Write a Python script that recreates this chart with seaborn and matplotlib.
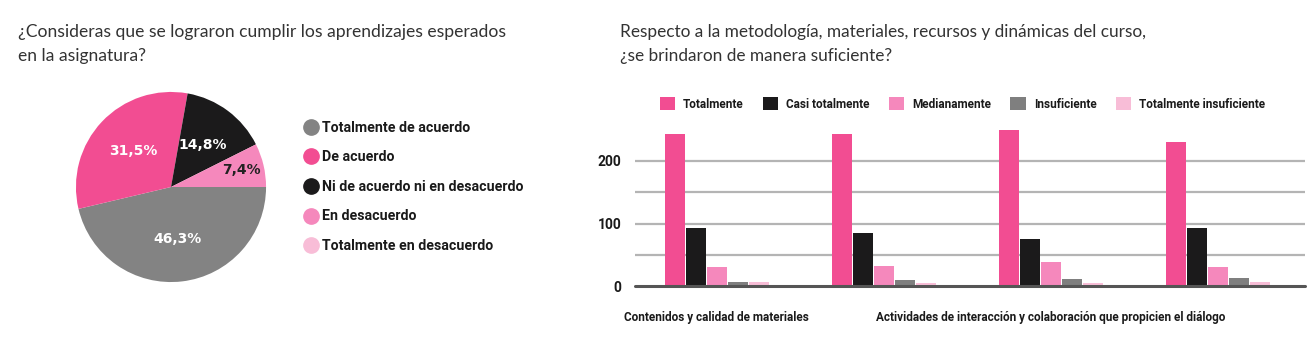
import numpy as np
import pandas as pd
import matplotlib
matplotlib.use('Agg')
import matplotlib.pyplot as plt
from matplotlib.lines import Line2D
import seaborn as sns

# Datos del gráfico de torta
pie_labels = ['Totalmente de acuerdo', 'De acuerdo', 'Ni de acuerdo ni en desacuerdo',
              'En desacuerdo', 'Totalmente en desacuerdo']
pie_values = [46.3, 31.5, 14.8, 7.4, 0.0]
pie_colors = ['#838383', '#F24D92', '#1B1A1B', '#F588BC', '#F8BDD7']

# Datos del gráfico de barras
categorias = ['Contenidos y calidad de materiales', '',
              'Actividades de interacción y colaboración que propicien el diálogo', '']
niveles = ['Totalmente', 'Casi totalmente', 'Medianamente', 'Insuficiente', 'Totalmente insuficiente']
totalmente = [243, 243, 249, 231]
casi_totalmente = [93, 85, 75, 93]
medianamente = [30, 32, 38, 31]
insuficiente = [7, 9, 11, 13]
totalmente_insuficiente = [7, 5, 5, 7]
bar_colors = ['#F24D92', '#1B1A1B', '#F588BC', '#7F7F7F', '#F8BDD7']

titulo_1 = '¿Consideras que se lograron cumplir los aprendizajes esperados\nen la asignatura?'
titulo_2 = 'Respecto a la metodología, materiales, recursos y dinámicas del curso,\n¿se brindaron de manera suficiente?'

sns.set_theme(style='white')
plt.rcParams['font.family'] = ['Lato', 'DejaVu Sans']
bold_font = ['Roboto', 'DejaVu Sans']

W, H = 1315, 337
fig = plt.figure(figsize=(W / 100, H / 100), dpi=100)
fig.patch.set_facecolor('white')

# Títulos
fig.text(18 / W, 1 - 24 / H, titulo_1, fontsize=12.6, color='#333333',
         va='top', ha='left', linespacing=1.65)
fig.text(620 / W, 1 - 24 / H, titulo_2, fontsize=12.4, color='#333333',
         va='top', ha='left', linespacing=1.65)

# ---- Torta ----
cx, cy, r = 171, 187, 96
ax_pie = fig.add_axes([(cx - r) / W, (H - cy - r) / H, 2 * r / W, 2 * r / H])
wedges, _ = ax_pie.pie(pie_values, colors=pie_colors, startangle=0, counterclock=False,
                       radius=1, wedgeprops=dict(linewidth=0))
total = sum(pie_values)
ang = 0.0
for v, c in zip(pie_values, pie_colors):
    if v <= 0:
        continue
    mid = np.deg2rad(ang - v / total * 180)
    ang -= v / total * 360
    dist = 0.55 if v > 10 else 0.76
    tc = '#222222' if c == '#F588BC' else 'white'
    ax_pie.text(dist * np.cos(mid), dist * np.sin(mid), f'{v:.1f}%'.replace('.', ','),
                ha='center', va='center', fontsize=10, fontweight='bold', color=tc,
                family=['DejaVu Sans'])
ax_pie.set_xlim(-1.01, 1.01)
ax_pie.set_ylim(-1.01, 1.01)
ax_pie.set_aspect('equal')
ax_pie.axis('off')

handles = [Line2D([0], [0], marker='o', linestyle='', markersize=11,
                  markerfacecolor=c, markeredgecolor=c) for c in pie_colors]
fig.legend(handles, pie_labels, loc='upper left', bbox_to_anchor=(290 / W, 1 - 108 / H),
           frameon=False, handletextpad=0.15, labelspacing=1.1, handlelength=1.2,
           prop=dict(family=bold_font, weight='bold', size=10.2), labelcolor='#1a1a1a')

# ---- Barras ----
df = pd.DataFrame({
    'categoria': np.repeat(np.arange(len(categorias)), len(niveles)),
    'nivel': niveles * len(categorias),
    'valor': np.array([totalmente, casi_totalmente, medianamente,
                       insuficiente, totalmente_insuficiente]).T.ravel(),
})

x0, x1 = 635, 1305
y_zero, y_top = 286, 123.5
ax = fig.add_axes([x0 / W, (H - y_zero) / H, (x1 - x0) / W, (y_zero - y_top) / H])
sns.barplot(data=df, x='categoria', y='valor', hue='nivel', hue_order=niveles,
            palette=bar_colors, width=0.63, gap=0.06, saturation=1, ax=ax,
            linewidth=0, legend=False)
ax.set_ylim(0, 260)
ax.set_xlim(-0.49, 3.52)
ax.set_yticks([0, 100, 200])
for y in [50, 100, 150, 200]:
    ax.axhline(y, color='#b4b4b4', linewidth=1.6, zorder=0)
ax.axhline(0, color='#555555', linewidth=2.2, zorder=3, clip_on=False)
for s in ax.spines.values():
    s.set_visible(False)
ax.set_xlabel('')
ax.set_ylabel('')
ax.set_xticks(range(len(categorias)))
ax.set_xticklabels(categorias, family=bold_font, fontweight='bold', fontsize=8.5, color='#1a1a1a')
ax.tick_params(axis='x', length=0, pad=18)
ax.tick_params(axis='y', length=0, pad=10)
for t in ax.get_yticklabels():
    t.set_family(bold_font)
    t.set_fontweight('bold')
    t.set_fontsize(10)
    t.set_color('#1a1a1a')

bar_handles = [plt.Rectangle((0, 0), 1, 1, facecolor=c, edgecolor='none') for c in bar_colors]
fig.legend(bar_handles, niveles, loc='center left', bbox_to_anchor=(649 / W, 1 - 104 / H),
           ncol=5, frameon=False, handlelength=1.3, handleheight=1.3, handletextpad=0.7,
           columnspacing=1.6, prop=dict(family=bold_font, weight='bold', size=8.5),
           labelcolor='#1a1a1a')

fig.savefig('out.png', dpi=100, facecolor='white')
